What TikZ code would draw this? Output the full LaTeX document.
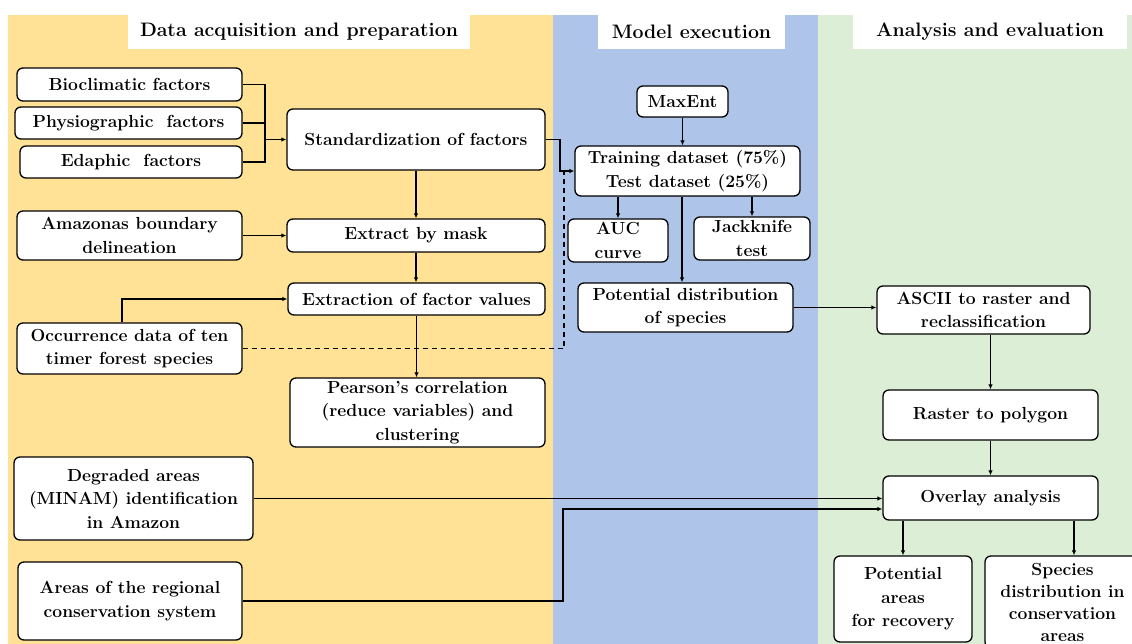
\documentclass[tikz,border=0pt]{standalone}
\usetikzlibrary{arrows.meta}
\definecolor{panelY}{RGB}{255,226,150}
\definecolor{panelB}{RGB}{174,196,232}
\definecolor{panelG}{RGB}{221,238,214}
\tikzset{
  box/.style={draw=black, line width=1.3pt, rounded corners=6pt, fill=white, align=center, inner sep=0pt,
    font=\fontsize{17.5}{23.5}\selectfont\bfseries},
  ttl/.style={fill=white, inner sep=0pt, font=\fontsize{19.5}{22}\selectfont\bfseries},
  ln/.style={line width=1.1pt},
  arr/.style={line width=1.1pt, -{Latex[length=5pt,width=4.5pt]}},
}
\begin{document}
\begin{tikzpicture}[x=1pt,y=-1pt]
\clip (0,0) rectangle (1132,644);
\fill[white] (0,0) rectangle (1132,644);
% panels
\fill[panelY] (8,15) rectangle (553,644);
\fill[panelB] (553,15) rectangle (818,644);
\fill[panelG] (818,15) rectangle (1132,644);
% titles
\node[ttl, minimum width=342, minimum height=34] (t1) at (299,32) {Data acquisition and preparation};
\node[ttl, minimum width=187, minimum height=34] (t2) at (691.5,32) {Model execution};
\node[ttl, minimum width=274, minimum height=34] (t3) at (990,32) {Analysis and evaluation};
% left column
\node[box, minimum width=225, minimum height=33] (bio) at (129.5,84.5) {Bioclimatic factors};
\node[box, minimum width=227, minimum height=32] (phys) at (128.5,123) {Physiographic\ \ factors};
\node[box, minimum width=222, minimum height=32] (eda) at (131,162) {Edaphic\ \ factors};
\node[box, minimum width=258, minimum height=61] (std) at (416,139.5) {Standardization of factors};
\node[box, minimum width=225, minimum height=49] (amz) at (129.5,235.5) {Amazonas boundary\\delineation};
\node[box, minimum width=258, minimum height=33] (mask) at (416,235.5) {Extract by mask};
\node[box, minimum width=257, minimum height=32] (ext) at (416.5,299) {Extraction of factor values};
\node[box, minimum width=225, minimum height=51] (occ) at (129.5,348.5) {Occurrence data of ten\\timer forest species};
\node[box, minimum width=255, minimum height=69] (prs) at (417.5,412.5) {Pearson's correlation\\(reduce variables) and\\clustering};
\node[box, minimum width=239, minimum height=83] (deg) at (133.5,498.5) {Degraded areas\\(MINAM) identification\\in Amazon};
\node[box, minimum width=224, minimum height=78] (reg) at (130,601) {Areas of the regional\\conservation system};
% middle column
\node[box, minimum width=91, minimum height=31] (maxent) at (682.5,101.5) {MaxEnt};
\node[box, minimum width=225, minimum height=50] (train) at (687.5,171) {Training dataset (75\%)\\Test dataset (25\%)};
\node[box, minimum width=100, minimum height=43] (auc) at (618,240.5) {AUC\\curve};
\node[box, minimum width=116, minimum height=43] (jack) at (752,238.5) {Jackknife\\test};
\node[box, minimum width=215, minimum height=49] (pot) at (685.5,307.5) {Potential distribution\\of species};
% right column
\node[box, minimum width=213, minimum height=48] (ascii) at (983.5,310) {ASCII to raster and\\reclassification};
\node[box, minimum width=215, minimum height=50] (rast) at (990.5,415) {Raster to polygon};
\node[box, minimum width=215, minimum height=44] (ovl) at (990.5,498) {Overlay analysis};
\node[box, minimum width=138, minimum height=86] (par) at (903,599) {Potential\\areas\\for recovery};
\node[box, minimum width=155, minimum height=92, font=\fontsize{17.5}{22}\selectfont\bfseries] (spc) at (1062.5,602) {Species\\distribution in\\conservation\\areas};
% junction coordinates
\coordinate (jx) at (265,0);
\coordinate (jt) at (560,0);
\coordinate (jd) at (564,0);
\coordinate (jo) at (122,0);
\coordinate (jr) at (563,509);
\coordinate (jp) at (682,0);
\coordinate (js) at (1074,0);
% connectors
\draw[ln] (bio.east) -- (bio.east -| jx) -- (eda.east -| jx) -- (eda.east);
\draw[ln] (phys.east) -- (phys.east -| jx);
\draw[arr] (std.west -| jx) -- (std.west);
\draw[arr] (std.east) -- (std.east -| jt) -- (train.west -| jt) -- (train.west);
\draw[ln, dash pattern=on 5pt off 4pt] (occ.east) -- (occ.east -| jd) -- (train.west -| jd);
\draw[arr] (std.south) -- (std.south |- mask.north);
\draw[arr] (amz.east) -- (mask.west);
\draw[arr] (mask.south) -- (mask.south |- ext.north);
\draw[arr] (occ.north -| jo) -- (ext.west -| jo) -- (ext.west);
\draw[arr] (ext.south) -- (ext.south |- prs.north);
\draw[arr] (deg.east) -- (deg.east -| ovl.west);
\draw[arr] (reg.east) -- (reg.east -| jr) -- (jr) -- (jr -| ovl.west);
\draw[arr] (maxent.south) -- (maxent.south |- train.north);
\draw[arr] (auc.north |- train.south) -- (auc.north);
\draw[arr] (jack.north |- train.south) -- (jack.north);
\draw[arr] (train.south -| jp) -- (pot.north -| jp);
\draw[arr] (pot.east) -- (pot.east -| ascii.west);
\draw[arr] (ascii.south -| rast.north) -- (rast.north);
\draw[arr] (rast.south) -- (ovl.north);
\draw[arr] (par.north |- ovl.south) -- (par.north);
\draw[arr] (ovl.south -| js) -- (spc.north -| js);
\end{tikzpicture}
\end{document}
